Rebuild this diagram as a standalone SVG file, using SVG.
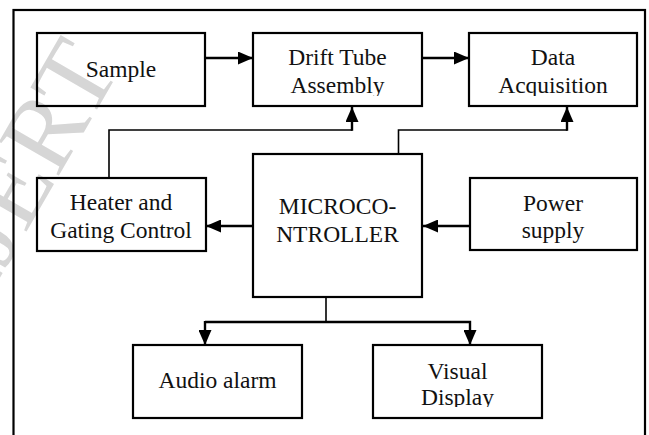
<svg xmlns="http://www.w3.org/2000/svg" width="649" height="435" viewBox="0 0 649 435">
<style>
.box{fill:none;stroke:#000;stroke-width:2.2}
.frame{fill:none;stroke:#000;stroke-width:2.2}
.lbl{font-size:23.5px;fill:#111;text-anchor:middle}
.conn{fill:none;stroke:#000;stroke-width:2.4}
.thin{fill:none;stroke:#000;stroke-width:1.6}
.wm{font-size:105px;fill:#d6d6d6;text-anchor:end}
</style>
<defs>
<marker id="ah" markerUnits="userSpaceOnUse" markerWidth="15" markerHeight="13" refX="15" refY="6.5" orient="auto">
<path d="M0,0 L15,6.5 L0,13 z" fill="#000"/>
</marker>
<clipPath id="clipTop"><rect x="0" y="0" width="649" height="96"/></clipPath>
<clipPath id="clipBot"><rect x="0" y="0" width="649" height="407"/></clipPath>
</defs>
<rect width="649" height="435" fill="#fff"/>
<g font-family="'Liberation Serif', 'DejaVu Serif', serif">
<text class="wm" transform="translate(121,68) rotate(-60)">IJERT</text>
</g>
<rect class="frame" x="13.5" y="10" width="631.5" height="440"/>

<g id="connectors">
<line class="conn" x1="205" y1="58" x2="253" y2="58" marker-end="url(#ah)"/>
<line class="conn" x1="422" y1="58" x2="469" y2="58" marker-end="url(#ah)"/>
<polyline class="thin" points="109,178 109,130 352,130"/>
<line class="conn" x1="352" y1="130.8" x2="352" y2="107" marker-end="url(#ah)"/>
<polyline class="thin" points="398.5,154 398.5,130 567,130"/>
<line class="conn" x1="567" y1="130.8" x2="567" y2="107" marker-end="url(#ah)"/>
<line class="conn" x1="253" y1="226" x2="206" y2="226" marker-end="url(#ah)"/>
<line class="conn" x1="470" y1="226" x2="423" y2="226" marker-end="url(#ah)"/>
<line class="thin" x1="326" y1="297" x2="326" y2="322"/>
<polyline class="conn" points="205,322 470,322 470,345" marker-end="url(#ah)"/>
<line class="conn" x1="205" y1="321" x2="205" y2="345" marker-end="url(#ah)"/>
</g>

<g font-family="'Liberation Serif', 'DejaVu Serif', serif">
<g id="sample">
<rect class="box" x="37" y="33" width="168" height="73"/>
<text class="lbl" x="121" y="76.5">Sample</text>
</g>
<g id="drift-tube">
<rect class="box" x="253" y="33" width="169" height="73"/>
<text class="lbl" x="337.5" y="65">Drift Tube</text>
<text class="lbl" x="337.5" y="93" clip-path="url(#clipTop)">Assembly</text>
</g>
<g id="data-acquisition">
<rect class="box" x="469" y="33" width="168" height="73"/>
<text class="lbl" x="553" y="65">Data</text>
<text class="lbl" x="553" y="93" clip-path="url(#clipTop)">Acquisition</text>
</g>
<g id="heater">
<rect class="box" x="37" y="178" width="169" height="73"/>
<text class="lbl" x="121" y="210">Heater and</text>
<text class="lbl" x="121" y="238">Gating Control</text>
</g>
<g id="microcontroller">
<rect class="box" x="253" y="154" width="169" height="143"/>
<text class="lbl" x="337.5" y="214">MICROCO-</text>
<text class="lbl" x="337.5" y="242">NTROLLER</text>
</g>
<g id="power-supply">
<rect class="box" x="470" y="178" width="167" height="72"/>
<text class="lbl" x="553" y="211">Power</text>
<text class="lbl" x="553" y="238">supply</text>
</g>
<g id="audio-alarm">
<rect class="box" x="133" y="345" width="169" height="73"/>
<text class="lbl" x="217.5" y="388">Audio alarm</text>
</g>
<g id="visual-display">
<rect class="box" x="373" y="345" width="169" height="73"/>
<text class="lbl" x="457.5" y="379">Visual</text>
<text class="lbl" x="457.5" y="405" clip-path="url(#clipBot)">Display</text>
</g>
</g>
</svg>
